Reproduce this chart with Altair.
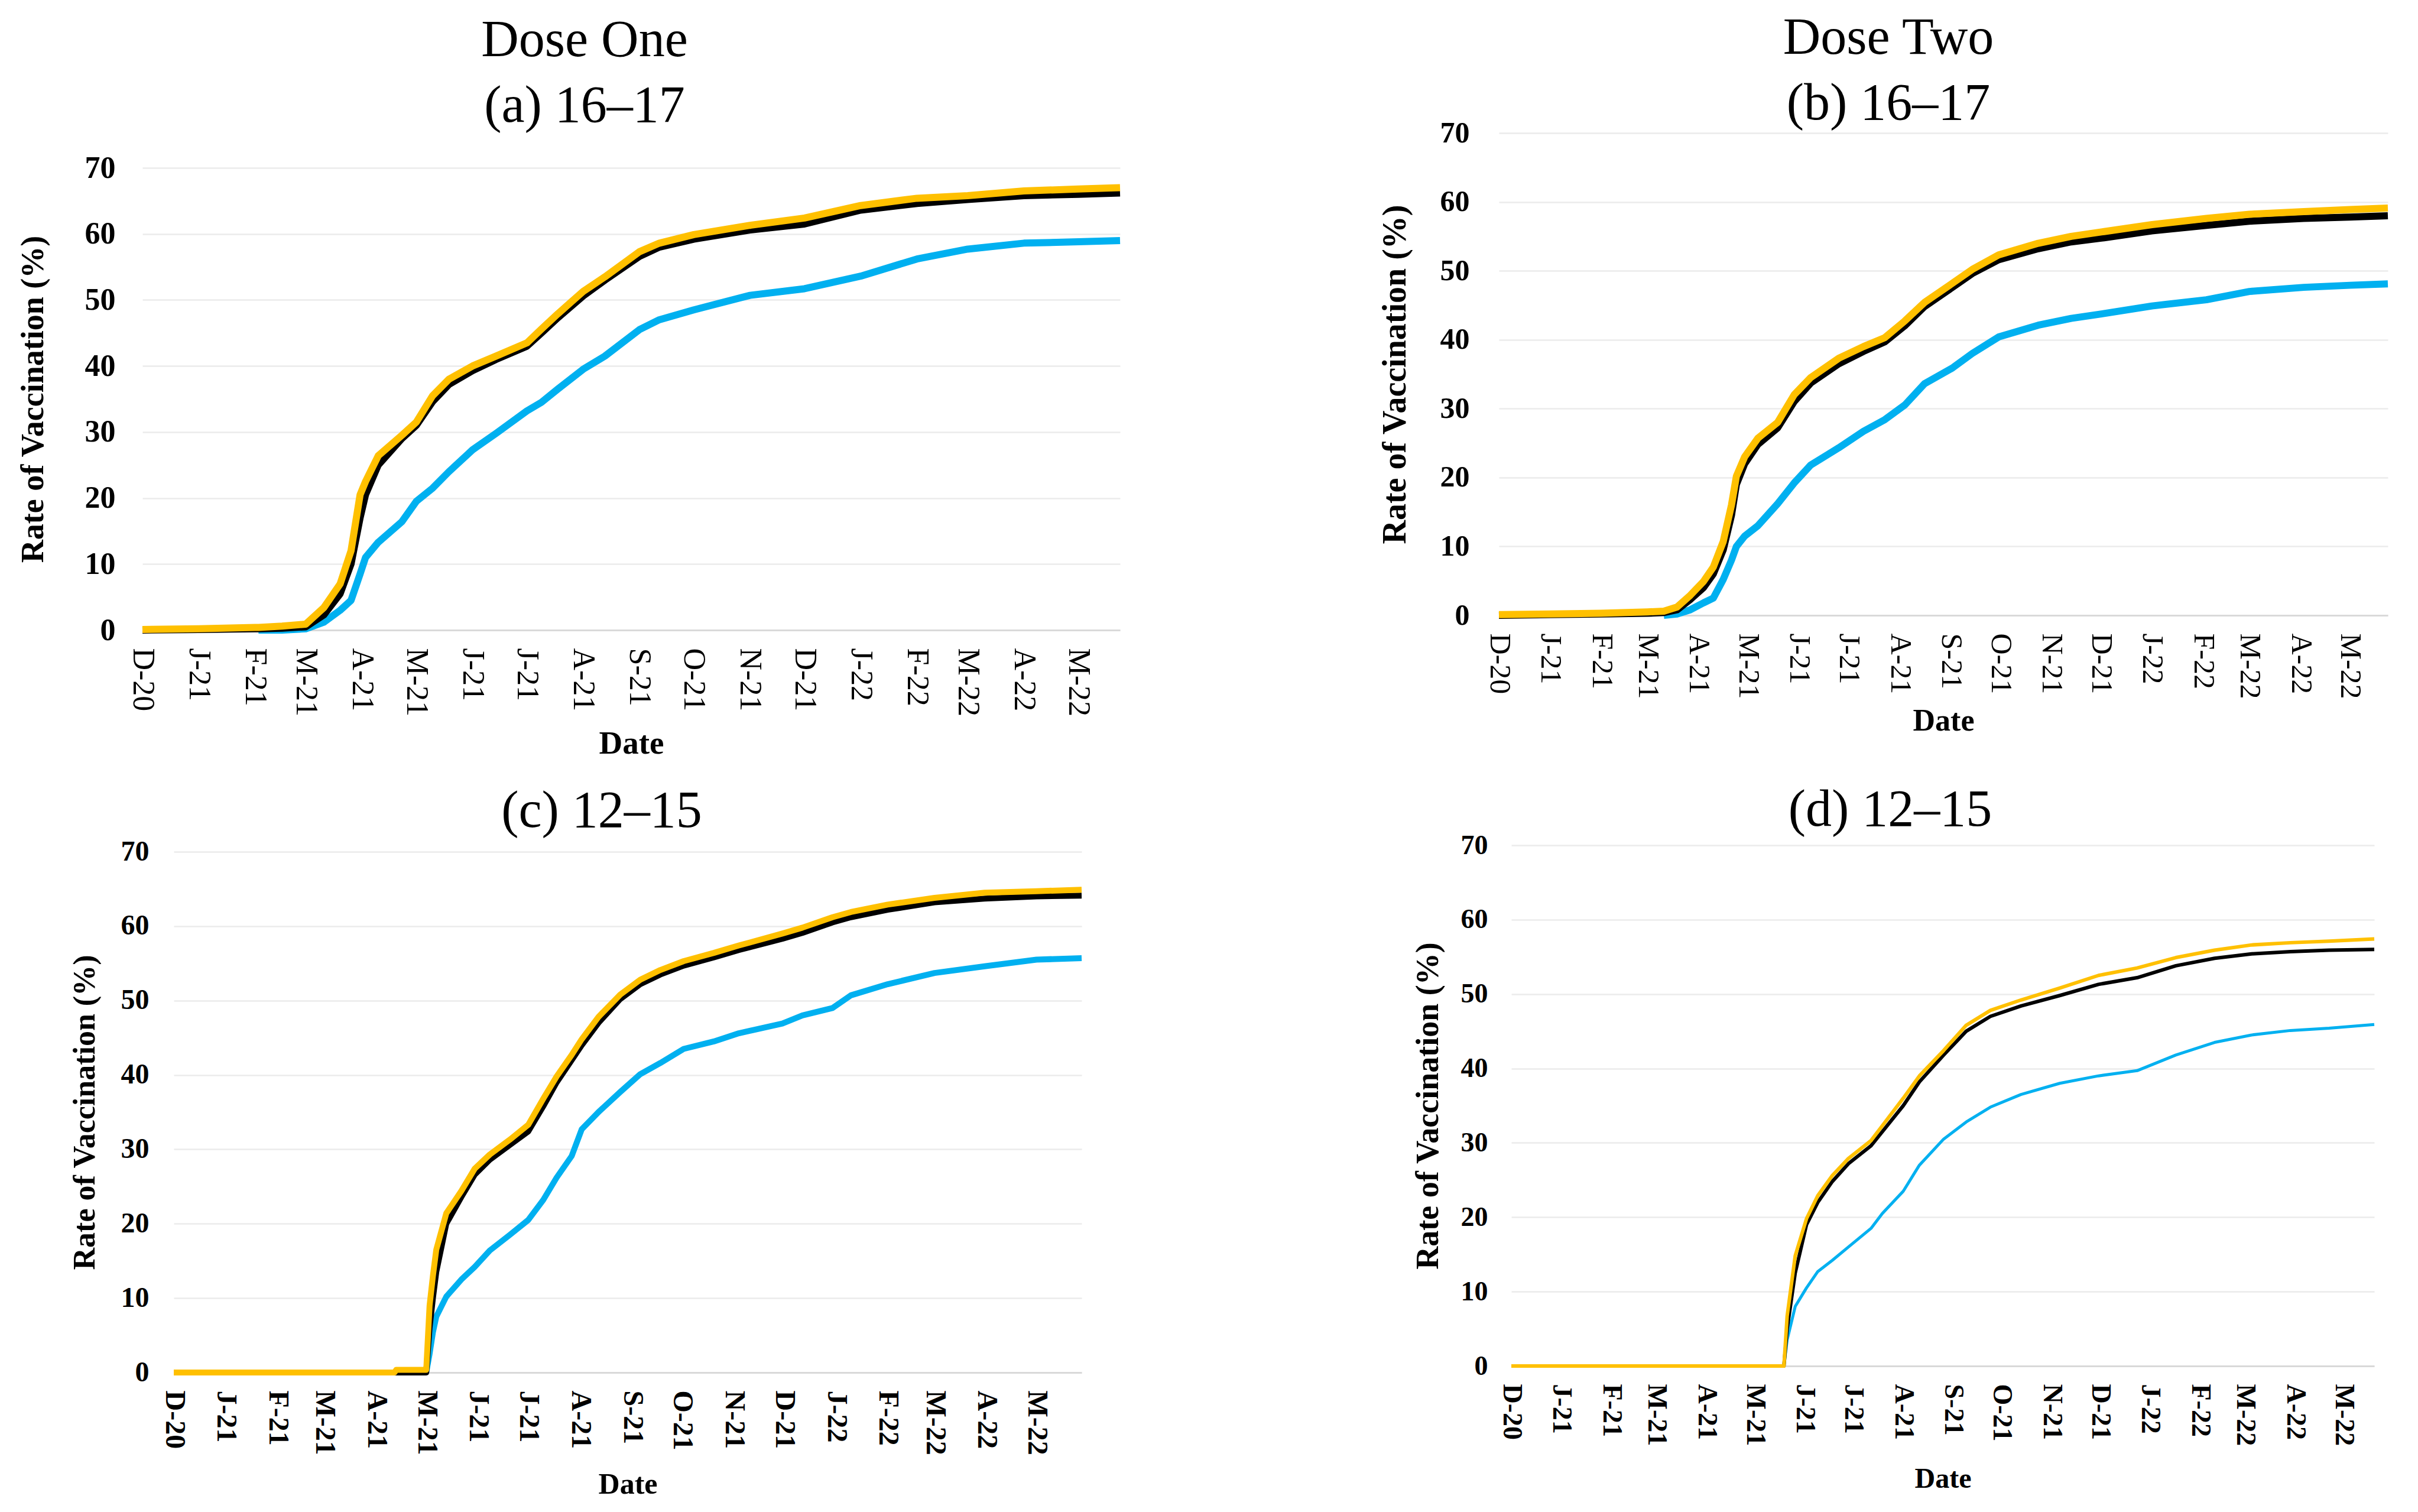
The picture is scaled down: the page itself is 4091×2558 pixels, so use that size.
import altair as alt
import pandas as pd

# ---------------- data ----------------
TICK_DATES = ["2020-12-14", "2021-01-14", "2021-02-14", "2021-03-14", "2021-04-14",
              "2021-05-14", "2021-06-14", "2021-07-14", "2021-08-14", "2021-09-14",
              "2021-10-14", "2021-11-14", "2021-12-14", "2022-01-14", "2022-02-14",
              "2022-03-14", "2022-04-14", "2022-05-14"]
Y_TICKS = [0, 10, 20, 30, 40, 50, 60, 70]

# (a) Dose One, 16-17
A_DATES = ["2020-12-14", "2021-01-14", "2021-02-14", "2021-02-16", "2021-03-01", "2021-03-14",
           "2021-03-24", "2021-04-02", "2021-04-08", "2021-04-13", "2021-04-16", "2021-04-23",
           "2021-05-06", "2021-05-14", "2021-05-23", "2021-06-01", "2021-06-14", "2021-06-27",
           "2021-07-14", "2021-07-22", "2021-07-31", "2021-08-14", "2021-08-26", "2021-09-14",
           "2021-09-25", "2021-10-14", "2021-11-14", "2021-12-14", "2022-01-14", "2022-02-14",
           "2022-03-14", "2022-04-14", "2022-05-14", "2022-06-06"]
A_YELLOW = [0.1, 0.2, 0.4, 0.4, 0.6, 0.9, 3.4, 7.0, 12.0, 20.5, 22.5, 26.4, 29.5, 31.5, 35.5, 38.0,
            40.0, 41.5, 43.5, 45.6, 47.9, 51.3, 53.5, 57.3, 58.6, 59.9, 61.3, 62.4, 64.3, 65.4,
            65.8, 66.5, 66.8, 67.0]
A_BLACK = [0.0, 0.1, 0.2, 0.2, 0.3, 0.5, 2.3, 5.5, 10.0, 17.0, 20.5, 25.0, 29.0, 31.0, 34.6, 37.2,
           39.3, 41.0, 43.0, 45.0, 47.3, 50.6, 53.0, 56.6, 58.0, 59.2, 60.6, 61.5, 63.6, 64.6,
           65.2, 65.8, 66.0, 66.2]
A_BLUE = [None, None, None, 0.0, 0.0, 0.2, 1.2, 3.0, 4.5, 8.5, 11.0, 13.3, 16.4, 19.5, 21.5, 24.0,
          27.3, 29.8, 33.2, 34.5, 36.5, 39.5, 41.5, 45.5, 47.0, 48.5, 50.7, 51.7, 53.6, 56.2,
          57.7, 58.6, 58.8, 59.0]

# (b) Dose Two, 16-17
B_DATES = ["2020-12-14", "2021-01-14", "2021-02-14", "2021-03-14", "2021-03-24", "2021-04-01",
           "2021-04-09", "2021-04-17", "2021-04-23", "2021-04-29", "2021-05-04", "2021-05-07",
           "2021-05-12", "2021-05-20", "2021-06-01", "2021-06-11", "2021-06-21", "2021-07-08",
           "2021-07-23", "2021-08-05", "2021-08-17", "2021-08-29", "2021-09-15", "2021-09-27",
           "2021-10-13", "2021-11-06", "2021-11-26", "2021-12-16", "2022-01-14", "2022-02-16",
           "2022-03-14", "2022-04-16", "2022-05-14", "2022-06-06"]
B_YELLOW = [0.1, 0.2, 0.3, 0.5, 0.6, 1.2, 2.9, 4.9, 7.0, 10.7, 16.0, 20.2, 23.0, 25.7, 28.0, 32.0,
            34.5, 37.3, 39.0, 40.3, 42.7, 45.4, 48.2, 50.2, 52.3, 54.0, 55.0, 55.7, 56.7, 57.6,
            58.2, 58.6, 58.9, 59.1]
B_BLACK = [0.0, 0.1, 0.2, 0.3, 0.4, 0.8, 2.3, 4.0, 6.0, 9.5, 14.5, 19.0, 22.0, 24.8, 27.2, 31.0,
           33.7, 36.5, 38.3, 39.7, 42.0, 44.8, 47.6, 49.6, 51.6, 53.2, 54.2, 54.8, 55.8, 56.6,
           57.2, 57.6, 57.8, 58.0]
B_BLUE = [None, None, None, None, 0.0, 0.2, 0.8, 1.8, 2.5, 5.2, 8.0, 10.0, 11.5, 13.0, 16.2, 19.2,
          21.8, 24.3, 26.7, 28.4, 30.5, 33.6, 35.9, 38.0, 40.4, 42.1, 43.1, 43.8, 44.9, 45.8,
          47.0, 47.6, 47.9, 48.1]

# (c) Dose One, 12-15
C_DATES = ["2020-12-14", "2021-04-25", "2021-04-26", "2021-05-14", "2021-05-16", "2021-05-18",
           "2021-05-20", "2021-05-26", "2021-06-04", "2021-06-12", "2021-06-21", "2021-07-03",
           "2021-07-14", "2021-07-23", "2021-07-31", "2021-08-09", "2021-08-15", "2021-08-25",
           "2021-09-07", "2021-09-19", "2021-10-01", "2021-10-15", "2021-11-02", "2021-11-17",
           "2021-12-13", "2021-12-25", "2022-01-12", "2022-01-23", "2022-02-14", "2022-03-14",
           "2022-04-13", "2022-05-14", "2022-06-10"]
C_YELLOW = [0.0, 0.0, 0.35, 0.35, 9.0, 13.0, 16.5, 21.4, 24.4, 27.4, 29.3, 31.3, 33.3, 36.8, 39.8,
            42.7, 44.8, 47.8, 50.8, 52.8, 54.1, 55.3, 56.4, 57.4, 59.0, 59.8, 61.2, 61.9, 62.9,
            63.8, 64.5, 64.7, 64.9]
C_BLACK = [0.0, 0.0, 0.0, 0.0, 6.0, 10.0, 13.5, 20.0, 23.6, 26.6, 28.6, 30.6, 32.4, 35.8, 39.0,
           42.0, 44.0, 47.0, 50.2, 52.2, 53.5, 54.7, 55.8, 56.8, 58.3, 59.1, 60.5, 61.2, 62.2,
           63.2, 63.7, 64.0, 64.1]
C_BLUE = [None, None, None, 0.0, 2.5, 5.4, 7.5, 10.2, 12.5, 14.2, 16.4, 18.5, 20.5, 23.2, 26.2,
          29.1, 32.7, 35.0, 37.7, 40.1, 41.6, 43.5, 44.5, 45.6, 46.9, 48.0, 49.0, 50.7, 52.2,
          53.7, 54.6, 55.5, 55.7]

# (d) Dose Two, 12-15
D_DATES = ["2020-12-14", "2021-06-01", "2021-06-03", "2021-06-08", "2021-06-15", "2021-06-22",
           "2021-07-01", "2021-07-11", "2021-07-25", "2021-08-01", "2021-08-14", "2021-08-24",
           "2021-09-08", "2021-09-22", "2021-10-07", "2021-10-26", "2021-11-19", "2021-12-13",
           "2022-01-06", "2022-01-30", "2022-02-23", "2022-03-18", "2022-04-11", "2022-05-05",
           "2022-06-02"]
D_YELLOW = [0.0, 0.0, 6.7, 14.8, 19.8, 22.9, 25.6, 27.9, 30.3, 32.3, 36.0, 39.0, 42.4, 45.8, 47.8,
            49.2, 50.8, 52.5, 53.5, 54.9, 55.9, 56.6, 56.9, 57.1, 57.4]
D_BLACK = [0.0, 0.0, 5.0, 12.5, 19.0, 22.0, 24.8, 27.2, 29.6, 31.5, 35.0, 38.2, 41.8, 45.0, 47.0,
           48.4, 49.8, 51.3, 52.2, 53.8, 54.8, 55.4, 55.7, 55.9, 56.0]
D_BLUE = [None, 0.0, 3.5, 8.0, 10.5, 12.7, 14.2, 16.0, 18.5, 20.5, 23.5, 27.0, 30.5, 32.8, 34.8,
          36.5, 38.0, 39.0, 39.7, 41.8, 43.5, 44.5, 45.1, 45.4, 45.9]

YELLOW = "#FFC000"
BLACK = "#000000"
BLUE = "#00B0F0"
SERIF = "Liberation Serif"


def to_dt(s):
    y, m, d = (int(p) for p in s.split("-"))
    return alt.DateTime(year=y, month=m, date=d, utc=True)


def series_df(dates, values):
    rows = [{"date": d, "rate": v} for d, v in zip(dates, values) if v is not None]
    return pd.DataFrame(rows)


def panel(dates, yel, blk, blu, *, width, height, end, title, widths,
          ylab, ytitle, ylab_pad, ytitle_pad, xlab, xlab_weight, xtitle, xtitle_pad,
          title_offset, title_dx):
    x = alt.X(
        "date:T",
        scale=alt.Scale(type="utc", domain=[to_dt("2020-12-14"), to_dt(end)]),
        axis=alt.Axis(
            values=[to_dt(t) for t in TICK_DATES],
            labelExpr="substring(utcFormat(datum.value, '%b'), 0, 1) + '-' + utcFormat(datum.value, '%y')",
            labelAngle=90, labelAlign="left", labelBaseline="middle",
            labelFont=SERIF, labelFontSize=xlab, labelFontWeight=xlab_weight,
            labelColor="black", labelPadding=30, labelOverlap=False,
            ticks=False, tickSize=0, grid=False,
            domain=True, domainColor="#D9D9D9", domainWidth=3,
            title="Date", titleFont=SERIF, titleFontSize=xtitle, titleFontWeight="bold",
            titleColor="black", titlePadding=xtitle_pad,
        ),
    )
    y = alt.Y(
        "rate:Q",
        scale=alt.Scale(domain=[0, 70], nice=False, zero=True),
        axis=alt.Axis(
            values=Y_TICKS, format="d",
            labelFont=SERIF, labelFontSize=ylab, labelFontWeight="bold", labelColor="black",
            labelPadding=ylab_pad, ticks=False, tickSize=0, domain=False,
            grid=True, gridColor="#EBEBEB", gridWidth=2.5,
            title="Rate of Vaccination (%)", titleFont=SERIF, titleFontSize=ytitle,
            titleFontWeight="bold", titleColor="black", titlePadding=ytitle_pad,
        ),
    )
    layers = []
    for vals, color, w in [(blu, BLUE, widths[2]), (blk, BLACK, widths[1]), (yel, YELLOW, widths[0])]:
        layers.append(
            alt.Chart(series_df(dates, vals))
            .mark_line(color=color, strokeWidth=w, strokeJoin="round")
            .encode(x=x, y=y)
        )
    t = dict(text=title[0], font=SERIF, fontSize=88, fontWeight="normal", color="black",
             anchor="middle", offset=title_offset, dx=title_dx)
    if len(title) > 1:
        t.update(subtitle=title[1], subtitleFont=SERIF, subtitleFontSize=88,
                 subtitleFontWeight="normal", subtitleColor="black", subtitlePadding=23)
    return alt.layer(*layers).properties(width=width, height=height, title=alt.TitleParams(**t))


def spacer(w, h):
    return (
        alt.Chart(pd.DataFrame({"s": [0]}))
        .mark_point(opacity=0, size=1)
        .encode(x=alt.X("s:Q", axis=None), y=alt.Y("s:Q", axis=None))
        .properties(width=w, height=h)
    )


def place(chart, dx, dy):
    """Put the chart's full bounds at (dx, dy) from the cell origin."""
    inner = alt.concat(spacer(dx, 1), chart, columns=2, align="none", spacing=0, bounds="full")
    return alt.concat(spacer(1, dy), inner, columns=1, align="none", spacing=0, bounds="full")


pa = panel(A_DATES, A_YELLOW, A_BLACK, A_BLUE, width=1654, height=782, end="2022-06-06",
           title=["Dose One", "(a) 16\u201317"], widths=(12, 12, 12),
           ylab=52, ytitle=54, ylab_pad=46, ytitle_pad=60, xlab=52, xlab_weight="normal",
           xtitle=55, xtitle_pad=20, title_offset=34, title_dx=-79)
pb = panel(B_DATES, B_YELLOW, B_BLACK, B_BLUE, width=1504, height=816, end="2022-06-06",
           title=["Dose Two", "(b) 16\u201317"], widths=(12, 12, 12),
           ylab=50, ytitle=56, ylab_pad=50, ytitle_pad=47, xlab=50, xlab_weight="normal",
           xtitle=52, xtitle_pad=12, title_offset=-20, title_dx=-93)
pc = panel(C_DATES, C_YELLOW, C_BLACK, C_BLUE, width=1536, height=881, end="2022-06-10",
           title=["(c) 12\u201315"], widths=(10, 10, 10),
           ylab=48, ytitle=52, ylab_pad=42, ytitle_pad=34, xlab=48, xlab_weight="bold",
           xtitle=50, xtitle_pad=25, title_offset=0, title_dx=-44)
pd_ = panel(D_DATES, D_YELLOW, D_BLACK, D_BLUE, width=1460, height=881, end="2022-06-02",
            title=["(d) 12\u201315"], widths=(6, 6, 5),
            ylab=46, ytitle=54, ylab_pad=40, ytitle_pad=28, xlab=46, xlab_weight="bold",
            xtitle=48, xtitle_pad=33, title_offset=-8, title_dx=-89)

chart = (
    alt.concat(
        place(pa, 21, 17), place(pb, 431, 13),
        place(pc, 109, 43), place(pd_, 488, 41),
        columns=2, align="none", spacing=0, bounds="full",
    )
    .properties(padding=0, background="white")
    .configure_view(stroke=None)
)

chart.save("out.html", embed_options={"renderer": "svg", "actions": False})
